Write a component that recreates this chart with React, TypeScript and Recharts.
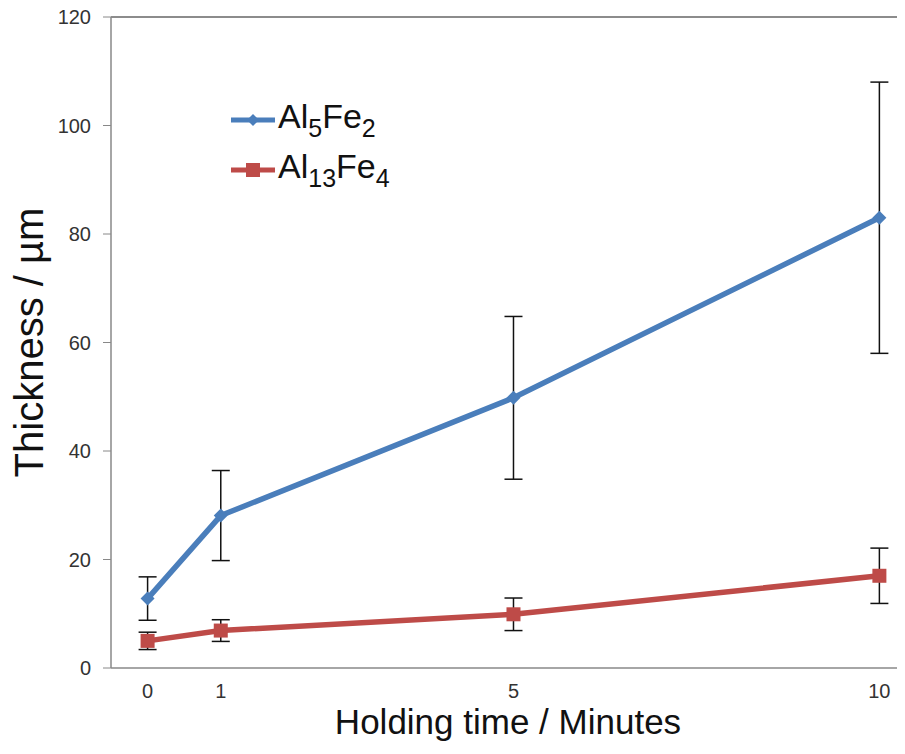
import { LineChart, Line, XAxis, YAxis, ErrorBar, ReferenceLine } from 'recharts';

const times = [0, 1, 5, 10];
const al5fe2 = [12.8, 28.1, 49.8, 83];
const al5fe2Err = [4, 8.3, 15, 25];
const al13fe4 = [5, 6.9, 9.9, 17];
const al13fe4Err = [1.6, 2, 3, 5.1];
const xTicks = [0, 1, 5, 10];
const yTicks = [0, 20, 40, 60, 80, 100, 120];

const BLUE = '#4a7ebb';
const RED = '#be4b48';

const seriesA = times.map((t, i) => ({ t, v: al5fe2[i], e: al5fe2Err[i] }));
const seriesB = times.map((t, i) => ({ t, v: al13fe4[i], e: al13fe4Err[i] }));

const Diamond = (props: any) => {
  const { cx, cy } = props;
  if (cx == null || cy == null) return null;
  return <polygon points={`${cx},${cy - 7} ${cx + 7},${cy} ${cx},${cy + 7} ${cx - 7},${cy}`} fill={BLUE} />;
};

const Square = (props: any) => {
  const { cx, cy } = props;
  if (cx == null || cy == null) return null;
  return <rect x={cx - 7} y={cy - 7} width={14} height={14} fill={RED} />;
};

const legendItems = [
  { color: BLUE, base: ['Al', 'Fe'], subs: ['5', '2'], mark: 'diamond' },
  { color: RED, base: ['Al', 'Fe'], subs: ['13', '4'], mark: 'square' },
];

function LegendBox() {
  return (
    <div
      style={{
        position: 'absolute',
        left: 229,
        top: 95,
        fontFamily: 'Arial, "Liberation Sans", sans-serif',
        fontSize: 34,
        color: '#111',
      }}
    >
      {legendItems.map((it, k) => (
        <div key={k} style={{ display: 'flex', alignItems: 'center', height: 50 }}>
          <svg width={48} height={20}>
            <line x1={2} y1={10} x2={46} y2={10} stroke={it.color} strokeWidth={5} />
            {it.mark === 'diamond' ? (
              <polygon points="24,4 30,10 24,16 18,10" fill={it.color} />
            ) : (
              <rect x={17} y={3} width={14} height={14} fill={it.color} />
            )}
          </svg>
          <span style={{ marginLeft: 1 }}>
            {it.base[0]}
            <sub style={{ fontSize: 25, verticalAlign: -9 }}>{it.subs[0]}</sub>
            {it.base[1]}
            <sub style={{ fontSize: 25, verticalAlign: -9 }}>{it.subs[1]}</sub>
          </span>
        </div>
      ))}
    </div>
  );
}

export default function App() {
  const font = 'Arial, "Liberation Sans", sans-serif';
  return (
    <div style={{ margin: -8, width: 905, height: 754, background: '#fff', position: 'relative', overflow: 'hidden' }}>
      <LineChart
        width={905}
        height={754}
        margin={{ top: 17, right: 0, bottom: 36, left: 51 }}
        style={{ fontFamily: font }}
      >
        <XAxis
          dataKey="t"
          type="number"
          domain={[-0.5, 10.35]}
          ticks={xTicks}
          allowDataOverflow
          height={50}
          tickLine={false}
          axisLine={{ stroke: '#888', strokeWidth: 1.5 }}
          tick={{ fill: '#333', fontSize: 20 }}
          tickMargin={10}
          label={{ value: 'Holding time / Minutes', position: 'insideBottom', offset: -16, fill: '#111', fontSize: 35 }}
        />
        <YAxis
          type="number"
          domain={[0, 120]}
          ticks={yTicks}
          width={60}
          tickSize={8}
          tickMargin={12}
          tickLine={{ stroke: '#888' }}
          axisLine={{ stroke: '#888', strokeWidth: 1.5 }}
          tick={{ fill: '#333', fontSize: 20 }}
          label={{ value: 'Thickness / µm', angle: -90, position: 'insideLeft', offset: -22, fill: '#111', fontSize: 40, style: { textAnchor: 'middle' } }}
        />
        <ReferenceLine y={120} stroke="#666" strokeWidth={1.5} />
        <Line
          data={seriesA}
          dataKey="v"
          name="Al5Fe2"
          stroke={BLUE}
          strokeWidth={5.5}
          dot={<Diamond />}
          activeDot={false}
          isAnimationActive={false}
        >
          <ErrorBar dataKey="e" direction="y" width={9} stroke="#111" strokeWidth={1.5} />
        </Line>
        <Line
          data={seriesB}
          dataKey="v"
          name="Al13Fe4"
          stroke={RED}
          strokeWidth={5.5}
          dot={<Square />}
          activeDot={false}
          isAnimationActive={false}
        >
          <ErrorBar dataKey="e" direction="y" width={9} stroke="#111" strokeWidth={1.5} />
        </Line>
      </LineChart>
      <LegendBox />
    </div>
  );
}
